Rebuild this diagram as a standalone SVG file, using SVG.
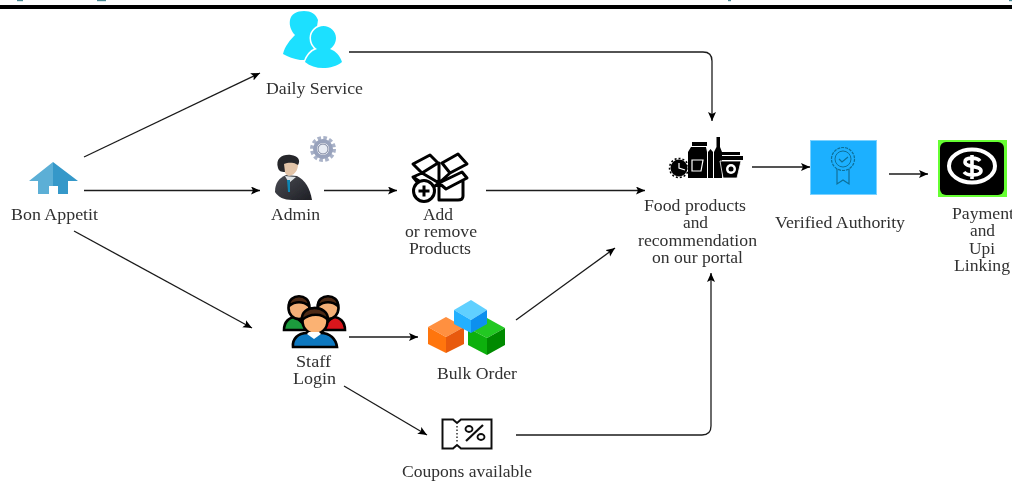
<svg xmlns="http://www.w3.org/2000/svg" width="1012" height="483" viewBox="0 0 1012 483">
<style>
text{font-family:"Liberation Serif","Times New Roman",serif;font-size:16px;fill:#303030}
.c{fill:none;stroke:#1a1a1a;stroke-width:1.3;marker-end:url(#a)}
.o{fill:none;stroke:#000;stroke-width:3;stroke-linejoin:round;stroke-linecap:round}
.p{stroke:#000;stroke-width:2.6}
</style>
<defs>
<marker id="a" markerUnits="userSpaceOnUse" markerWidth="10" markerHeight="9" refX="9" refY="4" orient="auto"><path d="M0,0L9,4L0,8L2,4Z" fill="#000"/></marker>
<filter id="s" x="0" y="0" width="100%" height="100%"><feGaussianBlur stdDeviation="0.5"/></filter>
<linearGradient id="suit" x1="0" y1="0" x2="1" y2="1"><stop offset="0" stop-color="#4a4c54"/><stop offset="1" stop-color="#1e1f24"/></linearGradient>
</defs>
<rect width="1012" height="483" fill="#fff"/>
<g filter="url(#s)">
<g id="page-edge">
<rect x="0" y="5" width="1012" height="4" fill="#000"/>
<g fill="#4a8a96"><rect x="17" y="0" width="6" height="1.2"/><rect x="97" y="0" width="9" height="1.2"/><rect x="728" y="0" width="3" height="1.2"/><rect x="1009" y="0" width="3" height="1.2"/></g>
</g>
<g id="connectors">
<path class="c" d="M84,157L260,73"/>
<path class="c" d="M84,190.500H260"/>
<path class="c" d="M74,231L252,328"/>
<path class="c" d="M349,52H703Q712,52 712,61V121"/>
<path class="c" d="M324,190.500H397"/>
<path class="c" d="M486,190.500H645"/>
<path class="c" d="M349,337H418"/>
<path class="c" d="M516,320L615,248"/>
<path class="c" d="M344,386L427,435"/>
<path class="c" d="M516,435H702Q711,435 711,426V273"/>
<path class="c" d="M752,167H810"/>
<path class="c" d="M889,174H928"/>
</g>
<g id="bon-appetit">
<path d="M53,162L29,181H38V194H49V186H53Z" fill="#5bafd6"/>
<path d="M53,162L78,181H68V194H58V186H53Z" fill="#3498c9"/>
<text x="11" y="220" textLength="87" lengthAdjust="spacingAndGlyphs">Bon Appetit</text>
</g>
<g id="daily-service">
<path d="M290,20C291,14 297,11 304,11C311,11 316,14 318,20L312,60H300C294,59 288,57 283,54C285,46 290,40 295,35C291,31 289,25 290,20Z" fill="#1ee0ff"/>
<path d="M311,38C311,31 317,26 323.500,26C330,26 336,31 336,38C336,43 333,47 330,49C336,51 340,56 342,62C337,66 330,68 323,68C316,68 310,66 305,62C307,56 311,51 317,49C314,47 311,43 311,38Z" fill="#1ee0ff" stroke="#fff" stroke-width="3" paint-order="stroke"/>
<text x="266" y="94" textLength="97" lengthAdjust="spacingAndGlyphs">Daily Service</text>
</g>
<g id="admin">
<circle cx="323" cy="149" r="11" fill="none" stroke="#a9b2c8" stroke-width="4" stroke-dasharray="3.500 2.260"/>
<circle cx="323" cy="149" r="8" fill="none" stroke="#98a2bc" stroke-width="4"/>
<circle cx="323" cy="149" r="5" fill="#e8ecf4" stroke="#79829c" stroke-width="1"/>
<path d="M275,192C275,183 279,178 286,175L297,176C305,180 310,188 312,200H292C284,200 278,197 275,192Z" fill="url(#suit)"/>
<path d="M285,176L289,183L296,177Z" fill="#dfe4e6"/>
<path d="M287,180H290L290,192H288Z" fill="#0e86b4"/>
<path d="M283,160L298,160C299,168 296,175 289,176C284,175 283,168 283,160Z" fill="#e2c4a8"/>
<path d="M278,168C275,158 283,154 291,155C298,156 301,160 298,165L296,164C292,162 287,163 284,164L285,172C281,172 279,171 278,168Z" fill="#25262a"/>
<text x="271" y="220" textLength="49" lengthAdjust="spacingAndGlyphs">Admin</text>
</g>
<g id="add-products">
<path class="o" d="M413,164L430,155L438,163L422,173ZM442,163L458,154L467,164L450,173ZM422,173L439,183L450,173M422,173L413,177L431,189L439,183M439,183L462,172L467,178L446,189L439,183M439,163V200H458Q463,200 463,196V181M413,177L418,183"/>
<circle cx="424" cy="191" r="10.500" fill="#fff" stroke="#000" stroke-width="3"/>
<path d="M418.500,191H429.500M424,185.500V196.500" stroke="#000" stroke-width="3"/>
<text x="423" y="220" textLength="30" lengthAdjust="spacingAndGlyphs">Add</text>
<text x="405" y="237" textLength="72" lengthAdjust="spacingAndGlyphs">or remove</text>
<text x="409" y="254" textLength="62" lengthAdjust="spacingAndGlyphs">Products</text>
</g>
<g id="staff-login">
<path class="p" d="M284,330C284,322 289,317 296,317L310,330Z" fill="#1a9a3c"/>
<path class="p" d="M345,330C345,322 340,317 333,317L318,330Z" fill="#d8141c"/>
<ellipse class="p" cx="299" cy="308" rx="10.500" ry="11" fill="#f4b078"/>
<ellipse class="p" cx="328" cy="308" rx="10.500" ry="11" fill="#f4b078"/>
<path class="p" d="M289,306C288,293 310,293 309,306C303,301 295,301 289,306Z" fill="#4e2a12"/>
<path class="p" d="M318,306C317,293 339,293 338,306C332,301 324,301 318,306Z" fill="#4e2a12"/>
<path class="p" d="M293,347C292,339 298,333 307,333H321C330,333 336,339 337,347Z" fill="#0f78c0"/>
<ellipse class="p" cx="315" cy="321" rx="12.500" ry="13" fill="#fbb273"/>
<path class="p" d="M302,320C300,304 329,304 328,320C322,313 310,313 302,320Z" fill="#4e2a12"/>
<path d="M307,334L314,339L321,334L319,332H309Z" fill="#fff"/>
<text x="296" y="367" textLength="35" lengthAdjust="spacingAndGlyphs">Staff</text>
<text x="293" y="384" textLength="43" lengthAdjust="spacingAndGlyphs">Login</text>
</g>
<g id="bulk-order">
<path d="M468,328L487,318L505,328L487,338Z" fill="#22c822"/><path d="M468,328V345L487,355V338Z" fill="#0cb00c"/><path d="M505,328V345L487,355V338Z" fill="#068a06"/>
<path d="M428,327L446,317L464,327L446,337Z" fill="#ff9040"/><path d="M428,327V344L446,353V337Z" fill="#ff7410"/><path d="M464,327V344L446,353V337Z" fill="#e85a08"/>
<path d="M454,310L471,300L487,310L471,320Z" fill="#60d0ff"/><path d="M454,310V324L471,333V320Z" fill="#20b0ff"/><path d="M487,310V324L471,333V320Z" fill="#1090ee"/>
<text x="437" y="379" textLength="80" lengthAdjust="spacingAndGlyphs">Bulk Order</text>
</g>
<g id="coupons">
<path d="M442.500,419.500H453L457,423L461,419.500H491.500V448.500H461L457,445L453,448.500H442.500Z" fill="none" stroke="#111" stroke-width="2"/>
<path d="M457,426V443" stroke="#333" stroke-width="1.500" stroke-dasharray="1.500 2"/>
<path d="M483,425L466,441" stroke="#111" stroke-width="2.200"/>
<ellipse cx="469" cy="429" rx="3.500" ry="3" fill="none" stroke="#111" stroke-width="1.800"/>
<ellipse cx="481" cy="437" rx="3.500" ry="3" fill="none" stroke="#111" stroke-width="1.800"/>
<text x="402" y="477" textLength="130" lengthAdjust="spacingAndGlyphs">Coupons available</text>
</g>
<g id="food-products">
<circle cx="679" cy="168" r="8.500" fill="#000"/>
<circle cx="679" cy="168" r="9.500" fill="none" stroke="#000" stroke-width="1.500" stroke-dasharray="2 2"/>
<path d="M679,163V168L685,170" fill="none" stroke="#fff" stroke-width="1.200"/>
<rect x="692" y="142" width="15" height="4" fill="#000"/>
<path d="M688,152L691,147H706L707,152V178H688Z" fill="#000"/>
<path d="M692,160H703L701,171H692Z" fill="none" stroke="#fff" stroke-width="1.200"/>
<path d="M708,152L710.500,149L713,152V178H708Z" fill="#000"/>
<path d="M714,178V152L716.500,147V137H720V147L722,152V178Z" fill="#000"/>
<path d="M722,152H740V155H722Z" fill="#000"/>
<path d="M718,156H743V160H718Z" fill="#000"/>
<path d="M720,161H741L737,178H723Z" fill="#000" stroke="#fff" stroke-width="0.800"/>
<circle cx="731" cy="169" r="5" fill="#fff"/>
<circle cx="731" cy="169" r="2.500" fill="#000"/>
<text x="644" y="211" textLength="102" lengthAdjust="spacingAndGlyphs">Food products</text>
<text x="683" y="228" textLength="25" lengthAdjust="spacingAndGlyphs">and</text>
<text x="638" y="246" textLength="119" lengthAdjust="spacingAndGlyphs">recommendation</text>
<text x="652" y="263" textLength="91" lengthAdjust="spacingAndGlyphs">on our portal</text>
</g>
<g id="verified-authority">
<rect x="810.500" y="140.500" width="66" height="54" fill="#1eb0ff" stroke="#7cd2ff"/>
<circle cx="843" cy="159" r="11.500" fill="none" stroke="#0c6f99" stroke-width="1.200" stroke-dasharray="3 1"/>
<circle cx="843" cy="159" r="8" fill="none" stroke="#0c6f99" stroke-width="1"/>
<path d="M839,159L842,162L848,157M837,169V184L843,180L849,184V169" fill="none" stroke="#0c6f99" stroke-width="1.200"/>
<text x="775" y="228" textLength="130" lengthAdjust="spacingAndGlyphs">Verified Authority</text>
</g>
<g id="payment">
<rect x="938" y="140" width="69" height="57" fill="#66ff33"/>
<rect x="940" y="142" width="64" height="53" rx="6" fill="#000"/>
<ellipse cx="972" cy="166" rx="23" ry="16.500" fill="none" stroke="#fff" stroke-width="4"/>
<path d="M980,161C977,157 965,157 965,162C965,168 981,165 981,171C981,176 967,176 964,172M972,155V179" fill="none" stroke="#fff" stroke-width="3.600"/>
<text x="952" y="219" textLength="62" lengthAdjust="spacingAndGlyphs">Payment</text>
<text x="970" y="236" textLength="25" lengthAdjust="spacingAndGlyphs">and</text>
<text x="969" y="254" textLength="26" lengthAdjust="spacingAndGlyphs">Upi</text>
<text x="954" y="271" textLength="56" lengthAdjust="spacingAndGlyphs">Linking</text>
</g>
</g>
</svg>
